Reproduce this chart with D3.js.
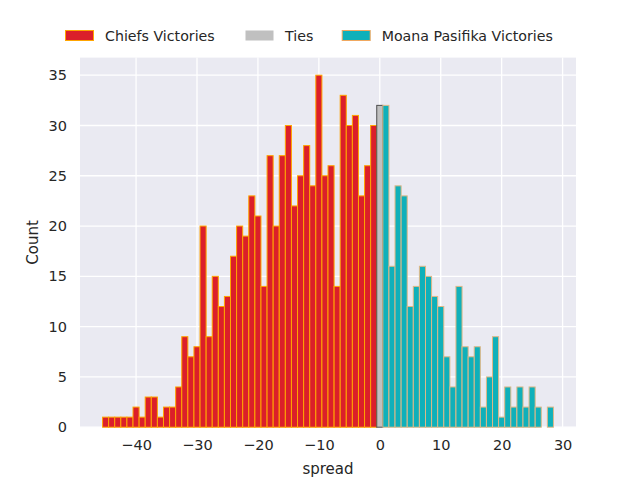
<!DOCTYPE html>
<html>
<head>
<meta charset="utf-8">
<script src="https://cdn.jsdelivr.net/npm/d3@7"></script>
<style>
  html, body { margin: 0; padding: 0; background: #ffffff; }
  svg { display: block; font-family: "DejaVu Sans", sans-serif; }
</style>
</head>
<body>
<svg id="chart" width="640" height="480"></svg>
<script>
// ---- data (bin centres, bin width 1) ----
const chiefsSpread = d3.range(-45, 0);
const chiefsCounts = [1, 1, 1, 1, 1, 2, 1, 3, 3, 1, 2, 2, 4, 9, 7, 8, 20, 9, 15, 12,
  13, 17, 20, 19, 23, 21, 14, 27, 20, 27, 30, 22, 25, 28, 24, 35, 25, 26, 14, 33,
  30, 31, 23, 26, 30];
const tiesSpread = [0];
const tiesCounts = [32];
const moanaSpread = d3.range(1, 29);
const moanaCounts = [32, 16, 24, 23, 12, 14, 16, 15, 13, 12, 7, 4, 14, 8, 7, 8, 2, 5,
  9, 1, 4, 2, 4, 2, 4, 2, 0, 2];
const xTicks = [-40, -30, -20, -10, 0, 10, 20, 30];
const yTicks = [0, 5, 10, 15, 20, 25, 30, 35];
const seriesNames = ["Chiefs Victories", "Ties", "Moana Pasifika Victories"];

const series = [
  { name: seriesNames[0], xs: chiefsSpread, ys: chiefsCounts, fill: "#db1f2a", stroke: "#ffa500", legendStroke: "#ffa500" },
  { name: seriesNames[1], xs: tiesSpread, ys: tiesCounts, fill: "#c0c0c0", stroke: "#4d4d4d", legendStroke: "none" },
  { name: seriesNames[2], xs: moanaSpread, ys: moanaCounts, fill: "#0fb0ba", stroke: "#deb887", legendStroke: "#f0a860" }
];

const svg = d3.select("#chart");
const L = 80, R = 576, T = 57.6, B = 427.2;
const lo = -45.5, hi = 28.5, pad = (hi - lo) * 0.05;
const x = d3.scaleLinear().domain([lo - pad, hi + pad]).range([L, R]);
const y = d3.scaleLinear().domain([0, 36.75]).range([B, T]);

// background
svg.append("rect").attr("x", L).attr("y", T).attr("width", R - L).attr("height", B - T).attr("fill", "#eaeaf2");

// grid
const grid = svg.append("g");
grid.selectAll(".gx").data(xTicks).join("line")
  .attr("x1", d => x(d)).attr("x2", d => x(d)).attr("y1", T).attr("y2", B)
  .attr("stroke", "#ffffff").attr("stroke-width", 1.3);
grid.selectAll(".gy").data(yTicks).join("line")
  .attr("x1", L).attr("x2", R).attr("y1", d => y(d)).attr("y2", d => y(d))
  .attr("stroke", "#ffffff").attr("stroke-width", 1.3);

// bars
series.forEach(s => {
  const data = s.xs.map((v, i) => ({ v, c: s.ys[i] })).filter(d => d.c > 0);
  svg.append("g").selectAll("rect").data(data).join("rect")
    .attr("x", d => x(d.v - 0.5))
    .attr("width", d => x(d.v + 0.5) - x(d.v - 0.5))
    .attr("y", d => y(d.c))
    .attr("height", d => y(0) - y(d.c))
    .attr("fill", s.fill)
    .attr("stroke", s.stroke)
    .attr("stroke-width", 1);
});

// axes
const xAxis = svg.append("g").attr("transform", `translate(0,${B})`)
  .call(d3.axisBottom(x).tickValues(xTicks).tickSize(0).tickPadding(13)
    .tickFormat(d => d < 0 ? "\u2212" + Math.abs(d) : String(d)));
const yAxis = svg.append("g").attr("transform", `translate(${L},0)`)
  .call(d3.axisLeft(y).tickValues(yTicks).tickSize(0).tickPadding(13));
[xAxis, yAxis].forEach(a => {
  a.select(".domain").remove();
  a.selectAll("text").attr("fill", "#262626").style("font-size", "14.5px").style("font-family", "DejaVu Sans, sans-serif");
});

// axis labels
svg.append("text").attr("x", (L + R) / 2).attr("y", 474).attr("text-anchor", "middle")
  .attr("fill", "#262626").style("font-size", "15px").text("spread");
svg.append("text").attr("transform", `translate(38,${(T + B) / 2}) rotate(-90)`)
  .attr("text-anchor", "middle").attr("fill", "#262626").style("font-size", "15px").text("Count");

// legend
const legendX = [65, 245, 341.7];
const lg = svg.append("g");
series.forEach((s, i) => {
  const g = lg.append("g").attr("transform", `translate(${legendX[i]},30)`);
  g.append("rect").attr("x", 0.5).attr("y", 0.5).attr("width", 28).attr("height", 10)
    .attr("fill", s.fill).attr("stroke", s.legendStroke).attr("stroke-width", 1);
  g.append("text").attr("x", 40).attr("y", 10.8).attr("fill", "#262626")
    .style("font-size", "14.2px").text(s.name);
});
</script>
</body>
</html>
